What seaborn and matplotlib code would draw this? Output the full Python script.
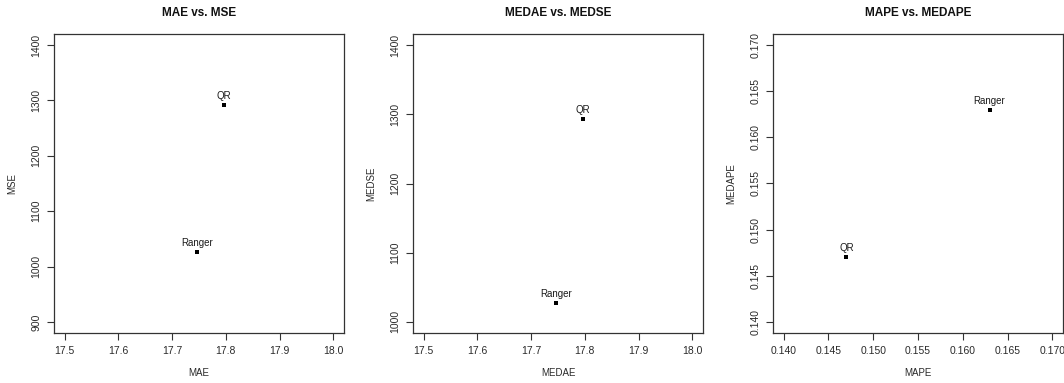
import matplotlib
matplotlib.use("Agg")
import matplotlib.pyplot as plt
import seaborn as sns
import pandas as pd

# values
models = ["QR", "Ranger"]
mae = [17.796, 17.747]
mse = [1292, 1026]
medae = [17.796, 17.747]
medse = [1293, 1027]
mape = [0.147, 0.163]
medape = [0.147, 0.163]

panels = [
    ("MAE vs. MSE", "MAE", "MSE", mae, mse,
     [17.5, 17.6, 17.7, 17.8, 17.9, 18.0], [900, 1000, 1100, 1200, 1300, 1400],
     (17.48, 18.02), (880, 1420), "{:.1f}", "{:.0f}"),
    ("MEDAE vs. MEDSE", "MEDAE", "MEDSE", medae, medse,
     [17.5, 17.6, 17.7, 17.8, 17.9, 18.0], [1000, 1100, 1200, 1300, 1400],
     (17.48, 18.02), (984, 1416), "{:.1f}", "{:.0f}"),
    ("MAPE vs. MEDAPE", "MAPE", "MEDAPE", mape, medape,
     [0.140, 0.145, 0.150, 0.155, 0.160, 0.165, 0.170],
     [0.140, 0.145, 0.150, 0.155, 0.160, 0.165, 0.170],
     (0.1388, 0.1712), (0.1388, 0.1712), "{:.3f}", "{:.3f}"),
]

sns.set_style("white")
plt.rcParams["font.family"] = ["Liberation Sans", "DejaVu Sans"]

W, H = 1064, 383
fig = plt.figure(figsize=(W / 100, H / 100), dpi=100)

# axes boxes in pixels: left, top, right, bottom
boxes = [(54, 34, 344, 333), (413, 34, 703, 333), (773, 34, 1063, 333)]

for (title, xl, yl, xv, yv, xt, yt, xlim, ylim, xf, yf), (l, t, r, b) in zip(panels, boxes):
    ax = fig.add_axes([l / W, 1 - b / H, (r - l) / W, (b - t) / H])
    df = pd.DataFrame({"x": xv, "y": yv, "model": models})
    sns.scatterplot(data=df, x="x", y="y", ax=ax, marker="s", s=11,
                    color="black", edgecolor="black", linewidth=0)
    for _, row in df.iterrows():
        ax.annotate(row["model"], (row["x"], row["y"]), xytext=(0, 3),
                    textcoords="offset points", ha="center", va="bottom",
                    fontsize=7, color="#1a1a1a")
    ax.set_xlim(*xlim)
    ax.set_ylim(*ylim)
    ax.set_xticks(xt)
    ax.set_xticklabels([xf.format(v) for v in xt])
    ax.set_yticks(yt)
    ax.set_yticklabels([yf.format(v) for v in yt], rotation=90, va="center")
    ax.tick_params(axis="both", direction="out", length=5, width=0.8,
                   color="#333333", labelsize=7.5, labelcolor="#2a2a2a",
                   bottom=True, left=True, pad=4)
    ax.set_xlabel(xl, fontsize=7, color="#2a2a2a", labelpad=9)
    ax.set_ylabel(yl, fontsize=7, color="#2a2a2a", labelpad=10)
    for s in ax.spines.values():
        s.set_visible(True)
        s.set_color("#333333")
        s.set_linewidth(0.9)
    fig.text((l + r) / 2 / W, 1 - 13 / H, title, ha="center", va="center",
             fontsize=8.5, fontweight="bold", color="#111111",
             family=["Liberation Sans Narrow", "Liberation Sans", "DejaVu Sans"])

fig.savefig("out.png", dpi=100)
